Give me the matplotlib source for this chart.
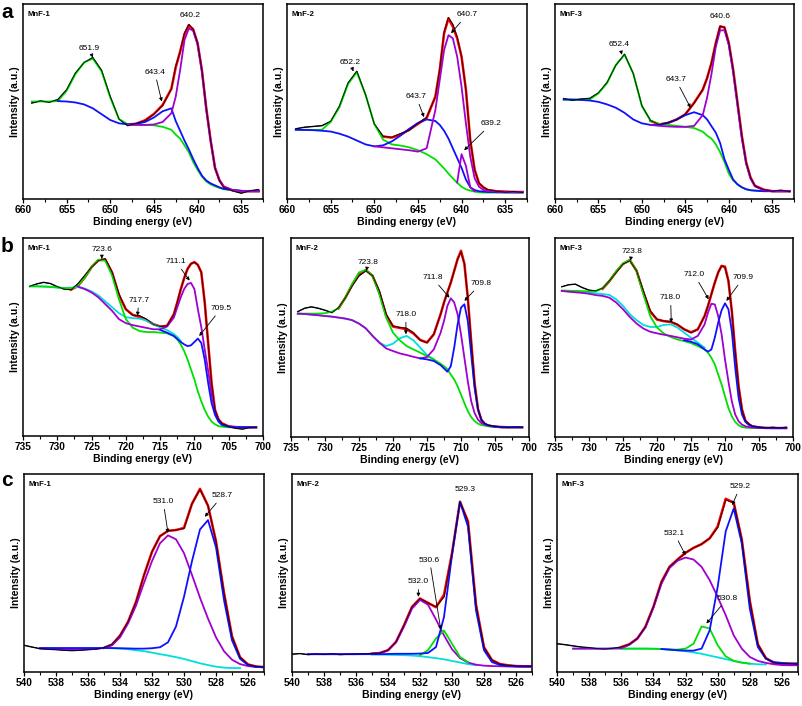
import numpy as np
import matplotlib
matplotlib.use("Agg")
import matplotlib.pyplot as plt
from matplotlib.ticker import MultipleLocator

plt.rcParams['font.family'] = ['Liberation Sans', 'DejaVu Sans']

# ---------------- data (intensity in % of axis height) ----------------
# Mn 2p
x_a = [659, 658, 657, 656, 655, 654, 653, 652, 651, 650, 649, 648, 647, 646, 645, 644, 643,
       642.5, 642, 641.5, 641, 640.5, 640, 639.5, 639, 638.5, 638, 637.5, 637, 636, 635, 634, 633]

a1_raw = [49.2, 50.3, 49.6, 51.0, 56.0, 64.5, 70.0, 72.5, 66.0, 52.5, 41.0, 37.6, 38.8, 40.2, 43.5, 48.0, 56.5,
          68.0, 75.5, 85.0, 89.5, 87.0, 80.0, 66.0, 46.5, 30.0, 16.0, 9.5, 6.0, 4.2, 3.0, 4.2, 4.8]
a1_fit = [None] * 11 + [38.2, 38.6, 40.4, 43.6, 48.2, 56.5,
                        67.5, 75.5, 84.5, 89.0, 87.0, 80.0, 66.0, 46.5, 30.0, 16.0, 9.7, 6.3, 4.5, 4.0, 4.0, 4.0]
a1_green = [50, 50, 50, 50.2, 55.5, 64, 70, 72, 65.5, 52, 41, 38.3, 38, 38, 37.8, 37, 35.5,
            33, 31, 27.5, 24, 19, 15, 11.5, 9, 7.5, 6.5, 5.7, 5, 4.5, 4.2, 4, 4]
a1_blue = [None, None, None, 50.2, 50, 49.5, 48.5, 46.5, 43.5, 40.5, 38.8, 38.3, 38.5, 39.5, 41.8, 45, 46.5,
           40, 35, 30, 25.5, 20.5, 16, 12, 9.5, 8, 7, 6, 5.2, 4.6, 4.2, 4, 4]
a1_purple = [None] * 11 + [38, 38, 38, 38.2, 39.5, 44,
                           52.5, 66, 81.5, 87.5, 86.3, 79.5, 65.5, 46, 30, 16, 9.7, 6.3, 4.5, 4, 4, 4]

a2_raw = [36, 36.8, 37.2, 37.6, 39.8, 47.5, 59.5, 65.5, 53.5, 38.5, 32.2, 31.6, 33.5, 35.2, 38.8, 41.8, 52.5,
          66.5, 85.5, 93, 89.5, 83, 73, 56, 30.5, 15, 8.2, 6, 4.8, 4, 3.5, 3.8, 3.4]
a2_fit = [None] * 10 + [32, 31.5, 33, 35.5, 38.5, 41.5, 52.5,
                        66, 85, 92.6, 88.4, 82.4, 73, 56, 30, 15, 8, 6, 4.6, 4, 3.8, 3.6, 3.6]
a2_green = [35.5, 35.5, 35.4, 35.5, 39.5, 47, 59, 65, 53.5, 38.5, 30.5, 28, 27.4, 26.5, 25, 23, 20.3,
            18, 15.7, 13, 10.6, 8.3, 6.3, 5, 4.3, 3.8, 3.4, 3.3, 3.3, 3.3, 3.3, 3.3, 3.3]
a2_blue = [35.5, 35.4, 35.3, 35, 34.6, 33.5, 32, 30, 28, 27, 27.5, 29.5, 32.5, 36, 39, 40.8, 40,
           38, 35, 31, 26, 21, 16, 10, 6, 4.6, 4, 3.8, 3.6, 3.5, 3.4, 3.4, 3.4]
a2_purple = [None] * 9 + [27, 26.5, 26, 25.5, 25, 24.3, 26, 45.6,
                          61, 76.4, 84, 82.4, 73, 57.6, 38.8, 21.7, 10.6, 6.3, 4.6, 4.1, 3.8, 3.6, 3.6, 3.6]
a2_small = [None] * 21 + [8.5, 23, 17, 6, 4] + [None] * 7

a3_raw = [51.5, 50.6, 51.3, 51.6, 54.4, 59.8, 68.6, 74.2, 64.4, 47.8, 40.2, 38.1, 39.2, 40.6, 43.6, 49.1, 56.2,
          62, 69.7, 80, 88.6, 88, 80, 66.3, 49.3, 32.3, 18.7, 11, 6.8, 4.8, 4, 4.5, 3.8]
a3_fit = [None] * 10 + [40, 38.3, 39, 40.8, 43.4, 49.3, 56,
                        62, 69.7, 80, 88.5, 88, 80, 66.3, 49.3, 32.3, 18.7, 11, 6.8, 4.8, 4, 4, 4]
a3_green = [51, 51, 51, 51, 54.2, 59.5, 68.8, 74, 64.4, 47.6, 40, 38.5, 38, 37.5, 37, 36.4, 34.5,
            32.5, 31, 28, 24, 19, 13, 9.5, 7.5, 6, 5, 4.5, 4.3, 4, 4, 4, 4]
a3_blue = [51, 51, 50.8, 50.5, 49.8, 48.5, 46.8, 44.2, 40.8, 38.8, 38, 38, 39, 40.8, 43, 44.5, 43,
           40.8, 37.4, 34, 28.7, 20.4, 15, 10, 7.5, 6, 5, 4.5, 4.3, 4, 4, 4, 4]
a3_purple = [None] * 10 + [38, 37.5, 37.2, 37, 37, 37.5, 43,
                           52, 64, 78, 86.5, 86.5, 79, 65, 48, 31, 18, 10.5, 6.5, 4.5, 4, 4, 4]

# Fe 2p
x_b = [734, 733, 732, 731, 730, 729, 728, 727, 726, 725, 724, 723, 722, 721, 720, 719, 718, 717, 716, 715, 714,
       713, 712.5, 712, 711.5, 711, 710.5, 710, 709.5, 709, 708.5, 708, 707.5, 707, 706.5, 706,
       705, 704, 703, 702, 701]

b1_raw = [75.6, 76.8, 77.6, 77, 75.4, 74.2, 73.9, 76.8, 81, 85.3, 88.6, 89.5, 82.7, 71.7, 64, 61, 60.7, 59, 56.4, 55.3, 55.6,
          61.5, 67.5, 74, 79.7, 84.4, 87, 87.8, 86.4, 82.7, 67.5, 47, 26.8, 13.2, 8.5, 6.4,
          4.7, 3.9, 3.5, 4.2, 4.4]
b1_fit = [None] * 6 + [73.9, 75.8, 80, 85.3, 88.8, 89, 82.5, 71, 64, 61.2, 60, 58.5, 56.5, 55.3, 55.6,
                       61.5, 67.5, 74, 79.7, 84.4, 87, 87.8, 86.4, 82.7, 67.5, 47, 26.8, 13.2, 8.5, 6.4,
                       4.9, 4.5, 4.4, 4.4, 4.4]
b1_green = [75.6, 75.6, 75.5, 75.3, 75, 74.7, 74.5, 76, 80, 85.3, 89, 88.6, 81, 69, 59, 54.7, 53, 52.5, 52.5, 52.2, 51.9,
            50.5, 48.8, 46.3, 42.9, 38.6, 33.6, 28.5, 22.5, 17.5, 13.2, 9.8, 7.3, 5.9, 5, 4.7,
            4.4, 4.4, 4.4, 4.4, 4.4]
b1_cyan = [75.6, 75.6, 75.5, 75.3, 75, 74.8, 74.8, 75.2, 74.5, 73, 71, 68, 65, 62, 60, 59.5, 59.3, 58.3, 56.5, 55, 53.5,
           51.5, 50, 48] + [None] * 17
b1_purple = [None] * 7 + [75.5, 74.2, 72.5, 70, 66.6, 63.2, 59, 57, 56, 55.3, 54.6, 53.9, 53.9, 55.3,
                          59.8, 65, 70, 74.2, 76.8, 77.3, 74.2, 64, 55, 43.7, 33, 21, 12, 8.3, 6,
                          4.8, 4.4, 4.4, 4.4, 4.4]
b1_blue = [None] * 19 + [53.6, 52.2,
                         50.5, 49, 47.5, 46.3, 45.4, 45.8, 47.5, 49.2, 47, 38.6, 26.8, 16.6, 10.7, 7.3, 5.6,
                         4.7, 4.4, 4.4, 4.4, 4.4]

b2_raw = [63, 64.7, 65.4, 64.7, 63.7, 62.5, 65, 70, 76, 81, 83.5, 81, 73.4, 61.7, 55.8, 55, 54.6, 52.4, 48.6, 47.4, 51.6,
          61.7, 67.6, 72.6, 77.6, 83.5, 89.4, 93, 87, 70, 48, 27, 14, 8.5, 6.8, 5.9,
          5.4, 5, 4.9, 5.1, 4.9]
b2_fit = [None] * 6 + [64.7, 70, 76.5, 82, 83.9, 81, 72.5, 61, 55.5, 54.8, 54.2, 52, 48.8, 47.5, 51.6,
                       61.7, 67.6, 72.6, 77.6, 83.5, 89.4, 93.6, 87, 70, 48, 27, 14, 8.5, 6.5, 5.7,
                       5.2, 5, 4.9, 4.9, 4.9]
b2_green = [62, 62, 62, 62, 62.2, 63, 64.7, 70, 76.8, 82.7, 83.9, 81, 71.8, 60, 52.4, 48.6, 45.7, 44, 42.4, 40.7, 39,
            36.8, 35.6, 34, 31.4, 28.9, 25.5, 21.3, 17, 13, 10, 8, 6.7, 6, 5.7, 5.4,
            5, 4.9, 4.9, 4.9, 4.9]
b2_cyan = [62, 61.8, 61.5, 61.2, 60.8, 60.5, 60, 59.5, 58.7, 57, 54.6, 50.8, 47.4, 45.7, 46.9, 49.6, 50.8, 48.6, 44.9,
           41.2, 39] + [None] * 20
b2_purple = [62, 61.8, 61.5, 61.2, 60.8, 60.5, 60, 59.5, 58.7, 57, 54.6, 50.8, 47.4, 44.5, 43.2, 42, 41.2, 40.3, 39.5,
             40.2, 44, 52.4, 58.3, 65.9, 69.7, 67.6, 61.7, 51.6, 39.8, 28, 18, 12, 8.7, 7, 6.2, 5.7,
             5.2, 4.9, 4.9, 4.9, 4.9]
b2_blue = [None] * 18 + [39.5, 39, 38.2,
                         36.1, 34.5, 32.8, 35.6, 44.9, 56.6, 65, 66.7, 58.3, 41.5, 24.7, 13.8, 8.7, 6.7, 5.9,
                         5.2, 4.9, 4.9, 4.9, 4.9]

b3_raw = [75.5, 76.5, 76.8, 75.1, 73.8, 73.4, 74.8, 78.5, 82.7, 86.9, 88.6, 83.5, 73.4, 63.4, 59.2, 58.3, 58, 56.6, 54.1,
          52.4, 54.1, 60.8, 65.9, 71.8, 77.6, 82.7, 86, 85.2, 78.5, 63.4, 43.2, 25.5, 13.8, 8.2, 6.6, 5.4,
          4.9, 4.5, 4.9, 4.5, 4.9]
b3_fit = [None] * 6 + [74.5, 78.3, 83, 87, 88.9, 83.5, 72.5, 63, 59, 58.2, 57.8, 56.4, 54.1, 52.6, 54.1,
                       60.8, 65.9, 71.8, 77.6, 82.7, 86, 85.6, 78.5, 63.4, 43.2, 25.5, 13.8, 8.2, 6.4, 5.4,
                       4.8, 4.6, 4.5, 4.5, 4.5]
b3_green = [73.6, 73.5, 73.4, 73.3, 73.2, 73.2, 74.8, 78.5, 83.2, 87.2, 88.9, 83.5, 71.8, 60.8, 55, 52, 50.3, 49, 48.2,
            47.2, 45.7, 44, 42.4, 39.8, 36.5, 31.4, 26.4, 20.5, 14.6, 10.4, 7.6, 5.9, 5, 4.7, 4.6, 4.5,
            4.5, 4.5, 4.5, 4.5, 4.5]
b3_cyan = [73.4, 73.3, 73.1, 72.9, 72.6, 72.2, 71.8, 71.4, 69.2, 65.9, 61.7, 58.7, 56.3, 55.3, 55.3, 56.3, 56.6, 55,
           52.4, 49.9, 47.4, 44.9] + [None] * 19
b3_purple = [73.4, 73, 72.7, 72.4, 72, 71.3, 70.9, 70, 67.6, 64.2, 60.3, 57, 54.5, 52.9, 52.1, 51.4, 50.8, 50.1, 49.4,
             49, 50.8, 56.6, 62.5, 67, 66.6, 60.8, 51.6, 39, 28, 18, 11.3, 7.9, 6.2, 5.4, 5, 4.8,
             4.5, 4.5, 4.5, 4.5, 4.5]
b3_blue = [None] * 18 + [48.6, 47.9, 46.6,
                         44, 42.9, 44, 49.9, 57.5, 63.7, 67.2, 64.2, 53.3, 34.8, 19.7, 11.3, 7.6, 6.2, 5.4,
                         4.9, 4.5, 4.5, 4.5, 4.5]

# O 1s
x_c = [540, 539.5, 539, 538.5, 538, 537.5, 537, 536.5, 536, 535.5, 535, 534.5, 534, 533.5, 533, 532.5,
       532, 531.5, 531, 530.5, 530, 529.5, 529, 528.5, 528, 527.5, 527, 526.5, 526, 525.5, 525]

c1_raw = [13.5, 12.6, 11.8, 11.5, 11.3, 11, 10.8, 11, 11.3, 11.6, 12.3, 14, 18.5, 25.3, 35.4, 48.9,
          60.7, 68.6, 71.3, 71.7, 72.5, 85, 92.2, 84, 66, 40, 18, 7.5, 3.8, 2.8, 2.5]
c1_fit = [None] * 10 + [12.2, 13.8, 18.3, 25.3, 35.4, 48.9,
                        60.7, 68.6, 71.3, 71.7, 72.8, 85, 92.5, 84, 66, 40, 18, 7.5, 3.8, 2.8, 2.5]
c1_purple = [None, None, 11.8, 11.8, 11.6, 11.5, 11.4, 11.4, 11.5, 11.6, 12.2, 13.5, 17.5, 24.5, 33.5, 45,
             56, 65, 69, 67, 60, 49, 37.5, 27, 17.5, 10.5, 6.2, 4, 3, 2.5, 2.4]
c1_blue = [None, None, 12.1, 12.1, 12.1, 12.1, 12.1, 12.1, 12.1, 12.1, 12.1, 12.1, 12, 11.9, 11.8, 11.8,
           12, 12.5, 15, 23, 38, 56, 72, 76.7, 63, 36.3, 16, 6.7, 3.5, 2.6, 2.4]
c1_cyan = [None, None, 12.1, 12.1, 12, 12, 12, 12, 12.1, 12.1, 12.1, 12, 11.8, 11.5, 11, 10.5,
           9.8, 9, 8.3, 7.5, 6.6, 5.5, 4.4, 3.5, 2.7, 2.2, 2, 2, None, None, None]

c2_raw = [9, 9.3, 8.8, 9.1, 8.9, 9.2, 8.8, 9, 9.1, 9.2, 9.3, 9.6, 11, 15.2, 23.6, 32.9,
          37.1, 34.9, 32.9, 38, 59.9, 86, 76, 34, 12.5, 6, 4, 3.4, 3, 2.9, 2.9]
c2_fit = [None] * 10 + [9.3, 9.6, 11, 15.2, 23.6, 32.9,
                        37.1, 34.9, 32.7, 39, 60, 86, 76, 34, 12.5, 6, 4, 3.4, 3, 2.9, 2.9]
c2_purple = [None, None, 9, 9, 9, 9, 9, 9, 9, 9.1, 9.2, 9.6, 11, 15, 23, 32,
             36.4, 34, 26.5, 18.5, 11.5, 7, 4.8, 3.7, 3.2, 3, 2.9, 2.8, 2.7, 2.6, 2.6]
c2_blue = [None, None, 9, 9, 9, 9, 9, 9, 9, 9, 9, 9, 9.1, 9.2, 9.2, 9.2,
           9.3, 9.6, 12.6, 27.8, 59, 86, 73.4, 31.2, 11, 5, 3.5, 3, 2.9, 2.9, 2.9]
c2_green = [None] * 16 + [8.5, 11, 16.9, 21, 14.3, 7.6, 5] + [None] * 8
c2_cyan = [None] * 10 + [8.8, 8.8, 8.7, 8.6, 8.5, 8.3,
                         8, 7.5, 7, 6.4, 5.6, 4.8, 4, 3.4] + [None] * 7

c3_raw = [14.3, 13.8, 13.2, 12.6, 12.3, 11.8, 11.6, 12, 12.6, 14, 16.9, 22.8, 32.9, 45.5, 53.1, 56.8,
          60.2, 62.7, 64.6, 67.5, 73, 87, 85.5, 67, 36, 14, 7, 4.6, 4.2, 4.3, 3.9]
c3_fit = [None] * 8 + [12.6, 14, 16.9, 22.8, 32.9, 45.5, 53.1, 56.8,
                       60.2, 62.7, 64.6, 67.5, 73.5, 87.5, 85.5, 67, 36, 14, 7, 4.6, 4.2, 4.2, 4.2]
c3_purple = [None, None, 11.8, 11.8, 11.8, 11.8, 11.8, 11.9, 12, 13.7, 16.9, 22.5, 32.5, 44.5, 52.5, 56.2,
             57.8, 56.8, 53.1, 46.4, 37.9, 28.7, 18.5, 11.8, 7.6, 5.6, 4.6, 3.9, 3.5, 3.4, 3.4]
c3_blue = [None] * 13 + [11.6, 11.3, 11,
                         10.8, 10.8, 11.8, 21, 43, 71, 82.6, 65, 32, 12.6, 6.7, 5, 4.6, 4.2, 4.2]
c3_green = [None] * 8 + [11.8, 11.8, 11.8, 11.8, 11.7, 11.6, 11.4, 11.3,
                         11.8, 14.3, 23, 22, 13.5, 7.9, 5.6, 4.7, 4.2] + [None] * 6
c3_cyan = [None, None, 11.8, 11.8, 11.8, 11.8, 11.8, 11.8, 11.8, 11.8, 11.8, 11.8, 11.8, 11.6, 11.3, 10.9,
           10.5, 9.9, 9.2, 8.3, 7.4, 6.5, 5.6, 4.8, 4.2, 3.9, 3.8] + [None] * 4

# peak labels: (text, text x, text y, arrow x, arrow y)
a1_labels = [("651.9", 652.4, 77, 652.0, 72.5), ("643.4", 644.9, 65, 644.1, 50), ("640.2", 640.9, 94, None, None)]
a2_labels = [("652.2", 652.75, 70, 652.4, 65.5), ("643.7", 645.2, 52.5, 644.3, 42),
             ("640.7", 639.4, 94.4, 641.2, 85), ("639.2", 636.6, 38.5, 639.7, 25)]
a3_labels = [("652.4", 652.6, 79, 652.3, 74), ("643.7", 646.1, 61.2, 644.4, 46.8), ("640.6", 641.0, 93.5, None, None)]
b1_labels = [("723.6", 723.5, 94, 723.5, 89.5), ("717.7", 718.1, 68.5, 718.3, 60.7),
             ("711.1", 712.7, 88, 710.7, 78.5), ("709.5", 706.1, 64.4, 709.3, 50.5)]
b2_labels = [("723.8", 723.7, 87.5, 723.9, 83.5), ("718.0", 718.1, 61.5, 718.1, 51.6),
             ("711.8", 714.2, 80, 711.7, 70), ("709.8", 707.1, 77, 709.5, 68.4)]
b3_labels = [("723.8", 723.7, 93, 723.9, 88.6), ("718.0", 718.0, 70, 717.9, 57.5),
             ("712.0", 714.5, 81.5, 712.4, 69.2), ("709.9", 707.3, 80, 709.8, 68.4)]
c1_labels = [("531.0", 531.3, 86, 531.0, 70.3), ("528.7", 527.6, 89, 528.7, 78.4)]
c2_labels = [("529.3", 529.2, 92, None, None), ("532.0", 532.1, 45.5, 532.1, 38),
             ("530.6", 531.4, 56.5, 530.7, 21.4)]
c3_labels = [("529.2", 528.6, 93.6, 529.1, 84.3), ("532.1", 532.7, 70, 532.0, 59),
             ("530.8", 529.4, 37.1, 530.7, 24.5)]

RED, GREEN, BLUE, PURPLE, CYAN = '#ff0000', '#00e000', '#1010ff', '#a000d0', '#00dede'


def arr(v):
    return np.array(v, dtype=float)


def panel(ax, x, raw, fit, comps, labels, name, xlim, major, minor):
    x = arr(x)
    ax.plot(x, arr(raw), color='k', lw=1.0, zorder=1)
    ax.plot(x, arr(fit), color=RED, lw=1.8, zorder=2)
    for y, c in comps:
        ax.plot(x, arr(y), color=c, lw=1.3, zorder=3)
    ax.plot(x, arr(raw), color='k', lw=0.5, zorder=4)
    for t, tx, ty, px, py in labels:
        if px is None:
            ax.text(tx, ty, t, fontsize=6, ha='center', va='center', zorder=6)
        else:
            ax.annotate(t, xy=(px, py), xytext=(tx, ty), fontsize=6, ha='center', va='center', zorder=6,
                        arrowprops=dict(arrowstyle='-|>', color='k', lw=0.6, mutation_scale=5,
                                        shrinkA=1, shrinkB=0))
    ax.text(0.02, 0.965, name, transform=ax.transAxes, fontsize=5.6, fontweight='bold', va='top', ha='left')
    ax.set_xlim(*xlim)
    ax.set_ylim(0, 100)
    ax.set_yticks([])
    ax.xaxis.set_major_locator(MultipleLocator(major))
    ax.xaxis.set_minor_locator(MultipleLocator(minor))
    ax.tick_params(axis='x', which='major', direction='out', length=3, width=0.9, pad=1.5, labelsize=7.3)
    ax.tick_params(axis='x', which='minor', direction='out', length=2, width=0.8)
    for lab in ax.get_xticklabels():
        lab.set_fontweight('bold')
    for s in ax.spines.values():
        s.set_linewidth(1.1)
    ax.set_xlabel('Binding energy (eV)', fontsize=7.6, fontweight='bold', labelpad=1)
    ax.set_ylabel('Intensity (a.u.)', fontsize=7.5, fontweight='bold', labelpad=2)


W, H = 803, 706
fig = plt.figure(figsize=(W / 100, H / 100), dpi=100)


def box(l, t, r, b):
    return fig.add_axes([l / W, 1 - b / H, (r - l) / W, (b - t) / H])


ax = box(23, 4, 263, 199)
panel(ax, x_a, a1_raw, a1_fit, [(a1_green, GREEN), (a1_blue, BLUE), (a1_purple, PURPLE)],
      a1_labels, 'MnF-1', (660, 632.5), 5, 2.5)
ax = box(287, 4, 527, 199)
panel(ax, x_a, a2_raw, a2_fit, [(a2_green, GREEN), (a2_blue, BLUE), (a2_purple, PURPLE), (a2_small, PURPLE)],
      a2_labels, 'MnF-2', (660, 632.5), 5, 2.5)
ax = box(555, 4, 794, 199)
panel(ax, x_a, a3_raw, a3_fit, [(a3_green, GREEN), (a3_blue, BLUE), (a3_purple, PURPLE)],
      a3_labels, 'MnF-3', (660, 632.5), 5, 2.5)

ax = box(23, 238, 263, 436)
panel(ax, x_b, b1_raw, b1_fit, [(b1_cyan, CYAN), (b1_green, GREEN), (b1_purple, PURPLE), (b1_blue, BLUE)],
      b1_labels, 'MnF-1', (735, 700), 5, 2.5)
ax = box(291, 238, 529, 437)
panel(ax, x_b, b2_raw, b2_fit, [(b2_cyan, CYAN), (b2_green, GREEN), (b2_purple, PURPLE), (b2_blue, BLUE)],
      b2_labels, 'MnF-2', (735, 700), 5, 2.5)
ax = box(555, 238, 793, 437)
panel(ax, x_b, b3_raw, b3_fit, [(b3_cyan, CYAN), (b3_green, GREEN), (b3_purple, PURPLE), (b3_blue, BLUE)],
      b3_labels, 'MnF-3', (735, 700), 5, 2.5)

ax = box(24, 474, 264, 672)
panel(ax, x_c, c1_raw, c1_fit, [(c1_cyan, CYAN), (c1_purple, PURPLE), (c1_blue, BLUE)],
      c1_labels, 'MnF-1', (540, 525), 2, 1)
ax = box(292, 474, 532, 672)
panel(ax, x_c, c2_raw, c2_fit, [(c2_cyan, CYAN), (c2_purple, PURPLE), (c2_green, GREEN), (c2_blue, BLUE)],
      c2_labels, 'MnF-2', (540, 525), 2, 1)
ax = box(557, 474, 798, 672)
panel(ax, x_c, c3_raw, c3_fit, [(c3_cyan, CYAN), (c3_green, GREEN), (c3_purple, PURPLE), (c3_blue, BLUE)],
      c3_labels, 'MnF-3', (540, 525), 2, 1)

for letter, y in (('a', 12), ('b', 246), ('c', 481)):
    fig.text(1 / W, 1 - y / H, letter, fontsize=15, fontweight='bold', va='center', ha='left')

fig.savefig('out.png', dpi=100)
